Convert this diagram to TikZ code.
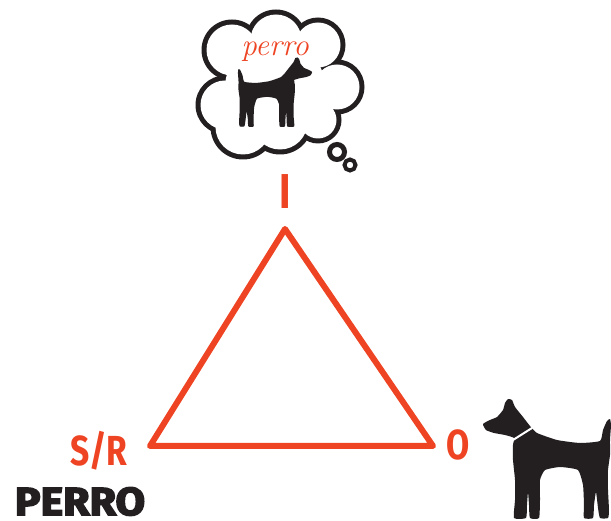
\documentclass[tikz,border=0pt]{standalone}
\usepackage{fontspec}
\newfontfamily\labelfont{Fira Sans}[FakeStretch=0.8]
\newfontfamily\heavyfont{Fira Sans}[FakeBold=4, FakeStretch=1.1]
\newfontfamily\handfont{Latin Modern Roman}
\definecolor{signorange}{HTML}{EE4423}
\definecolor{inkblack}{HTML}{231F20}
\tikzset{
  vertexlabel/.style={text=signorange, font=\labelfont\bfseries\fontsize{42}{42}\selectfont, inner sep=0pt, anchor=base},
  wordlabel/.style={text=inkblack, font=\heavyfont\bfseries\fontsize{39}{39}\selectfont, inner sep=0pt, anchor=base},
  semline/.style={draw=signorange, line width=6pt, line join=round},
  dog/.pic={
    \fill[inkblack] plot[smooth cycle, tension=0.3] coordinates {
      (483,-424) (490,-420) (497,-417) (503,-410) (505,-403) (508,-399)
      (512,-400) (515,-407) (523,-417) (530,-426) (537,-433) (557,-440)
      (580,-443) (600,-441) (603,-430) (607,-421) (610,-419) (611,-425)
      (610,-440) (610,-455) (608,-470) (608,-490) (609,-510) (608,-518)
      (600,-518) (598,-508) (596,-492) (594,-505) (593,-518) (584,-518)
      (584,-505) (583,-485) (578,-470) (560,-467) (545,-470) (540,-480)
      (540,-500) (539,-518) (530,-518) (529,-505) (528,-492) (527,-505)
      (526,-518) (514,-518) (515,-500) (515,-480) (513,-460) (513,-445)
      (514,-438) (505,-435) (494,-433) (486,-430)};
  },
  collar/.style={draw=white, line width=2pt, line cap=round}
}
\begin{document}
\begin{tikzpicture}[x=1pt, y=1pt]
\useasboundingbox (0,0) rectangle (611,-521);

% thought cloud: black discs, then white discs leave the outline band
\foreach \cx/\cy/\r in {232/50/28, 276/40/28, 318/45/25, 337/87/25,
                       318/120/21, 280/122/30, 243/127/30, 225/105/27}
  \fill[inkblack] (\cx,-\cy) circle[radius=\r+2.5];
\foreach \cx/\cy/\r in {232/50/28, 276/40/28, 318/45/25, 337/87/25,
                       318/120/21, 280/122/30, 243/127/30, 225/105/27}
  \fill[white] (\cx,-\cy) circle[radius=\r-2.5];
\fill[white] (275,-88) circle[radius=50];
\node[draw=inkblack, line width=5pt, circle, minimum size=15pt, inner sep=0pt] (bubbleA) at (337,-152) {};
\node[draw=inkblack, line width=4pt, circle, minimum size=11pt, inner sep=0pt] (bubbleB) at (350,-165) {};

% idea inside the cloud
\node[text=signorange, font=\handfont\itshape\fontsize{31}{31}\selectfont, inner sep=0pt, anchor=base] (word) at (275,-56) {perro};
\pic[shift={(592.3,174)}, xscale=-0.58, yscale=0.58] {dog};

% the object
\pic {dog};
\draw[collar] (513,-440) -- (532,-428);

% semiotic triangle
\coordinate (apex) at (285,-229);
\coordinate (left) at (150,-446);
\coordinate (right) at (433,-446);
\draw[semline] (apex) -- (left) -- (right) -- cycle;

\node[vertexlabel, font=\labelfont\bfseries\fontsize{49}{49}\selectfont] (I) at (285,-209) {I};
\node[vertexlabel] (SR) at (99,-465) {S/R};
\node[vertexlabel] (O) at (458.5,-460) {O};
\node[wordlabel] (perro) at (80,-515) {PERRO};
\end{tikzpicture}
\end{document}
